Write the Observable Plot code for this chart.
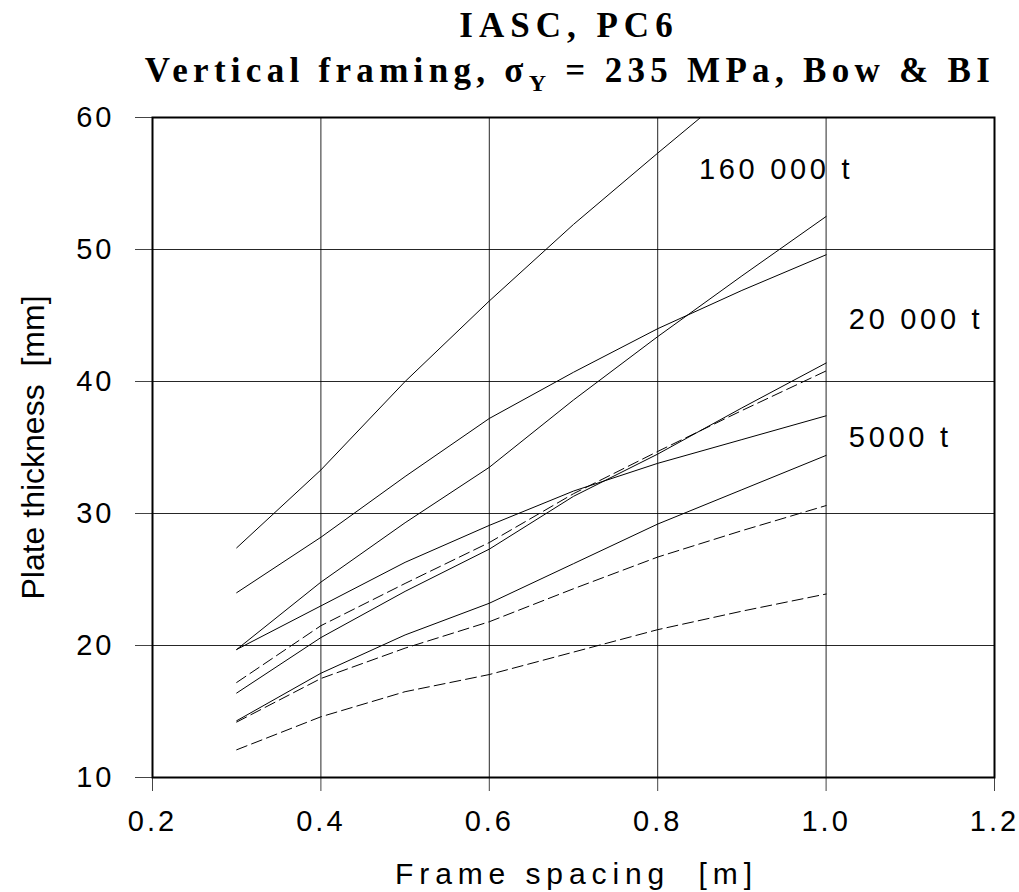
<!DOCTYPE html>
<html>
<head>
<meta charset="utf-8">
<script src="https://cdn.jsdelivr.net/npm/d3@7"></script>
<script src="https://cdn.jsdelivr.net/npm/@observablehq/plot@0.6"></script>
<style>
  html, body { margin: 0; padding: 0; background: #fff; overflow: hidden; }
  #wrap { position: relative; width: 1019px; height: 892px; }
  .title { position: absolute; transform: translateX(-50%); white-space: nowrap;
           font-family: "Liberation Serif", "Times New Roman", serif; font-weight: bold;
           font-size: 35px; line-height: 35px; color: #000; }
  .title .sub { font-size: 24px; position: relative; top: 9px; }
  #chart svg text { font-family: "Liberation Sans", Arial, sans-serif; }
</style>
</head>
<body>
<div id="wrap">
  <div class="title" style="left:569px; top:8px; letter-spacing:6px;">IASC, PC6</div>
  <div class="title" style="left:570px; top:53.4px; letter-spacing:5.3px;">Vertical framing, σ<span class="sub">Y</span> = 235 MPa, Bow &amp; BI</div>
  <div id="chart"></div>
</div>
<script>
// Frame spacing [m]
const spacing = [0.3, 0.4, 0.5, 0.6, 0.7, 0.8, 0.9, 1.0];

// Plate thickness [mm] — solid curves
const solid1 = [27.4, 33.3, 40.0, 46.1, 51.9, 57.3, 62.6];   // runs off the top
const solid2 = [24.0, 28.2, 32.8, 37.2, 40.7, 44.0, 46.9, 49.6];
const solid3 = [19.7, 24.8, 29.3, 33.5, 38.6, 43.4, 48.0, 52.5];
const solid4 = [19.7, 23.0, 26.3, 29.1, 31.7, 33.8, 35.6, 37.4];
const solid5 = [16.4, 20.6, 24.1, 27.3, 31.3, 34.5, 38.0, 41.4];
const solid6 = [14.3, 17.9, 20.8, 23.2, 26.2, 29.2, 31.8, 34.4];

// dashed curves
const dashed1 = [17.2, 21.5, 24.7, 27.8, 31.5, 34.7, 37.8, 40.8];
const dashed2 = [14.2, 17.5, 19.8, 21.8, 24.3, 26.7, 28.7, 30.6];
const dashed3 = [12.1, 14.6, 16.5, 17.8, 19.5, 21.2, 22.6, 23.9];

// curve labels
const labels = ["160 000 t", "20 000 t", "5000 t"];
const labelX = [0.849, 1.027, 1.027];
const labelY = [55.36, 44.0, 35.02];

// axes
const xTicks = [0.2, 0.4, 0.6, 0.8, 1.0, 1.2];
const yTicks = [10, 20, 30, 40, 50, 60];
const xGrid = [0.4, 0.6, 0.8, 1.0];
const yGrid = [20, 30, 40, 50];
const xTitle = "Frame spacing  [m]";
const yTitle = "Plate thickness  [mm]";

function rows(name, ys) {
  return ys.map((y, i) => ({series: name, x: spacing[i], y}));
}
const solidData = [
  ...rows("s1", solid1), ...rows("s2", solid2), ...rows("s3", solid3),
  ...rows("s4", solid4), ...rows("s5", solid5), ...rows("s6", solid6)
];
const dashedData = [
  ...rows("d1", dashed1), ...rows("d2", dashed2), ...rows("d3", dashed3)
];
const labelData = labels.map((t, i) => ({t, x: labelX[i], y: labelY[i]}));

const chart = Plot.plot({
  width: 1019,
  height: 892,
  marginLeft: 152,
  marginRight: 25,
  marginTop: 117,
  marginBottom: 115,
  style: {fontSize: "29px", background: "#fff", color: "#000"},
  x: {domain: [0.2, 1.2]},
  y: {domain: [10, 60]},
  marks: [
    Plot.gridX(xGrid, {stroke: "#000", strokeOpacity: 0.85, strokeWidth: 1}),
    Plot.gridY(yGrid, {stroke: "#000", strokeOpacity: 0.85, strokeWidth: 1}),
    Plot.line(solidData, {x: "x", y: "y", z: "series", stroke: "#000", strokeWidth: 1, clip: true}),
    Plot.line(dashedData, {x: "x", y: "y", z: "series", stroke: "#000", strokeWidth: 1, strokeDasharray: "11,5", clip: true}),
    Plot.axisX({ticks: xTicks, tickFormat: d3.format(".1f"), tickSize: 14, tickPadding: 19,
                fontSize: 29, label: null, stroke: "#444"}),
    Plot.axisY({ticks: yTicks, tickFormat: d => String(d), tickSize: 17, tickPadding: 21,
                fontSize: 29, label: null, stroke: "#444"}),
    Plot.frame({stroke: "#000", strokeWidth: 2}),
    Plot.text(labelData, {x: "x", y: "y", text: "t", textAnchor: "start", lineAnchor: "bottom",
                          fontSize: 29, fill: "#000"}),
    Plot.text([xTitle], {text: d => d, frameAnchor: "bottom", textAnchor: "middle", lineAnchor: "bottom",
                         dy: 106, dx: 3, fontSize: 30, fill: "#000"}),
    Plot.text([yTitle], {text: d => d, frameAnchor: "left", textAnchor: "middle", lineAnchor: "bottom",
                         rotate: -90, dx: -109, fontSize: 32, fill: "#000"})
  ]
});
document.getElementById("chart").appendChild(chart);

// letter spacing as in the original rendering
d3.select(chart).selectAll("text").each(function () {
  const t = this.textContent;
  if (t === xTitle) this.style.letterSpacing = "5.9px";
  else if (t === yTitle) this.style.letterSpacing = "0px";
  else if (labels.includes(t)) this.style.letterSpacing = "3.7px";
  else this.style.letterSpacing = "3px";
});
</script>
</body>
</html>
